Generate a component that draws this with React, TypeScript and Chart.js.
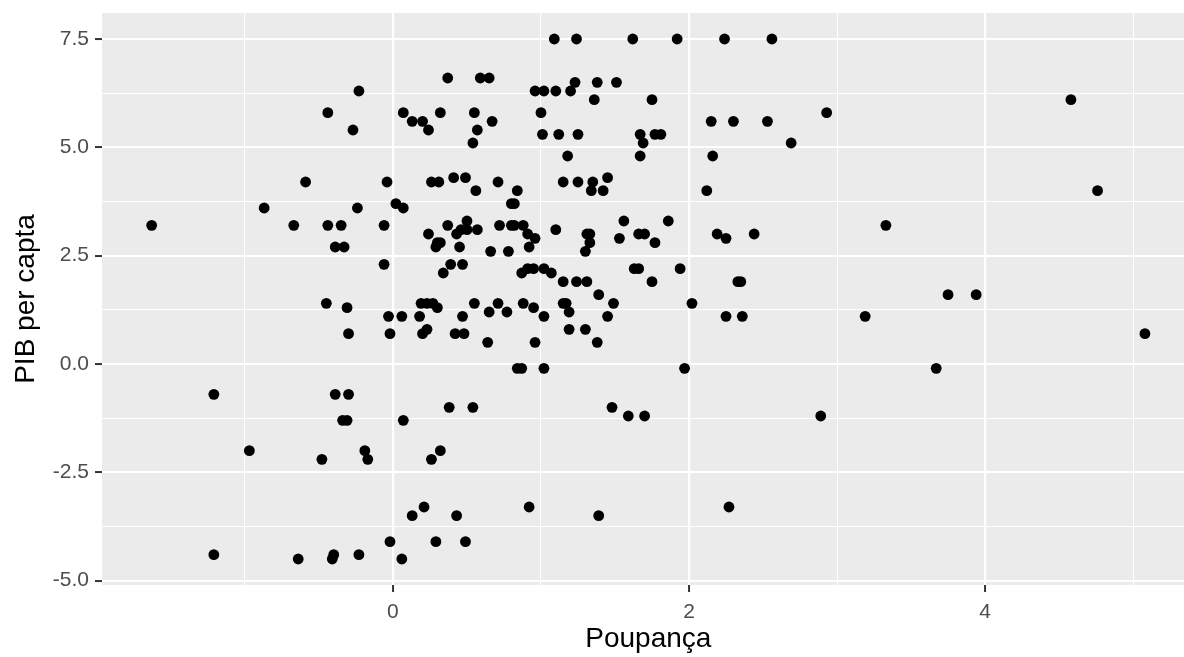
import { useEffect, useRef } from "react";
import { Chart, registerables } from "chart.js";

Chart.register(...registerables);

// Poupança (x) and PIB per capta (y)
const poupanca = [
  -1.63, -0.87, -0.67, -0.59, -0.44, -0.44, -0.39, -0.33, -0.35, -0.27,
  -0.23, -0.24, -0.06, -0.06, -0.04, 0.02, 0.07, 0.07, -0.45, -0.31,
  -0.03, 0.06, -0.3, -0.02, -1.21, -0.39, -0.3, -0.34, -0.31, 0.07,
  -0.97, -0.48, -0.19, -0.17, -0.02, -1.21, -0.64, -0.4, -0.41, -0.23,
  0.06, 1.09, 1.24, 0.37, 0.59, 0.65, 0.96, 1.02, 1.1, 1.2,
  1.23, 0.13, 0.2, 0.24, 0.32, 0.55, 0.67, 0.57, 0.54, 1.0,
  1.01, 1.12, 1.25, 1.18, 0.26, 0.31, 0.41, 0.49, 0.56, 0.71,
  0.84, 0.8, 0.82, 1.15, 1.25, 0.37, 0.5, 0.24, 0.43, 0.46,
  0.5, 0.57, 0.72, 0.8, 0.82, 0.88, 0.91, 0.96, 0.92, 1.1,
  0.3, 0.32, 0.29, 0.45, 0.66, 0.78, 0.39, 0.47, 0.34, 0.87,
  0.91, 0.95, 1.02, 1.07, 1.15, 1.24, 0.19, 0.23, 0.27, 0.3,
  0.18, 0.47, 0.55, 0.65, 0.71, 0.77, 0.88, 0.95, 1.02, 1.15,
  1.17, 1.19, 1.19, 0.2, 0.23, 0.42, 0.48, 0.64, 0.96, 0.84,
  0.87, 1.02, 0.38, 0.54, 0.32, 0.26, 0.21, 0.13, 0.43, 0.92,
  1.39, 0.29, 0.49, 1.48, 1.59, 1.7, 2.27, 1.62, 1.92, 2.24,
  2.56, 1.38, 1.51, 1.36, 1.75, 2.15, 2.3, 2.53, 1.67, 1.77,
  1.81, 1.69, 1.67, 2.16, 1.35, 1.45, 1.34, 1.42, 2.12, 1.56,
  1.86, 1.31, 1.33, 1.33, 1.3, 1.53, 1.66, 1.7, 1.77, 2.19,
  2.25, 2.44, 1.63, 1.66, 1.94, 1.31, 1.75, 2.33, 2.35, 1.39,
  1.49, 2.02, 1.45, 2.25, 2.36, 1.3, 1.38, 1.97, 2.69, 2.93,
  2.89, 3.19, 3.33, 3.67, 3.75, 3.94, 4.58, 4.76, 5.08,
];

const pibPerCapta = [
  3.2, 3.6, 3.2, 4.2, 5.8, 3.2, 2.7, 2.7, 3.2, 5.4,
  6.3, 3.6, 3.2, 2.3, 4.2, 3.7, 3.6, 5.8, 1.4, 1.3,
  1.1, 1.1, 0.7, 0.7, -0.7, -0.7, -0.7, -1.3, -1.3, -1.3,
  -2.0, -2.2, -2.0, -2.2, -4.1, -4.4, -4.5, -4.4, -4.5, -4.4,
  -4.5, 7.5, 7.5, 6.6, 6.6, 6.6, 6.3, 6.3, 6.3, 6.3,
  6.5, 5.6, 5.6, 5.4, 5.8, 5.8, 5.6, 5.4, 5.1, 5.8,
  5.3, 5.3, 5.3, 4.8, 4.2, 4.2, 4.3, 4.3, 4.0, 4.2,
  4.0, 3.7, 3.7, 4.2, 4.2, 3.2, 3.3, 3.0, 3.0, 3.1,
  3.1, 3.1, 3.2, 3.2, 3.2, 3.2, 3.0, 2.9, 2.7, 3.1,
  2.8, 2.8, 2.7, 2.7, 2.6, 2.6, 2.3, 2.3, 2.1, 2.1,
  2.2, 2.2, 2.2, 2.1, 1.9, 1.9, 1.4, 1.4, 1.4, 1.3,
  1.1, 1.1, 1.4, 1.2, 1.4, 1.2, 1.4, 1.3, 1.1, 1.4,
  1.4, 1.2, 0.8, 0.7, 0.8, 0.7, 0.7, 0.5, 0.5, -0.1,
  -0.1, -0.1, -1.0, -1.0, -2.0, -2.2, -3.3, -3.5, -3.5, -3.3,
  -3.5, -4.1, -4.1, -1.0, -1.2, -1.2, -3.3, 7.5, 7.5, 7.5,
  7.5, 6.5, 6.5, 6.1, 6.1, 5.6, 5.6, 5.6, 5.3, 5.3,
  5.3, 5.1, 4.8, 4.8, 4.2, 4.3, 4.0, 4.0, 4.0, 3.3,
  3.3, 3.0, 3.0, 2.8, 2.6, 2.9, 3.0, 3.0, 2.8, 3.0,
  2.9, 3.0, 2.2, 2.2, 2.2, 1.9, 1.9, 1.9, 1.9, 1.6,
  1.4, 1.4, 1.1, 1.1, 1.1, 0.8, 0.5, -0.1, 5.1, 5.8,
  -1.2, 1.1, 3.2, -0.1, 1.6, 1.6, 6.1, 4.0, 0.7,
];

const xTickValues = [-1, 0, 1, 2, 3, 4, 5];
const xMajorTicks = [0, 2, 4];
const yTickValues = [-5, -3.75, -2.5, -1.25, 0, 1.25, 2.5, 3.75, 5, 6.25, 7.5];
const yMajorTicks = [-5, -2.5, 0, 2.5, 5, 7.5];

const xTitle = "Poupança";
const yTitle = "PIB per capta";

const FONT = "'Liberation Sans', Arial, sans-serif";

const panelBackground = {
  id: "panelBackground",
  beforeDraw(chart: any) {
    const { ctx, chartArea } = chart;
    ctx.save();
    ctx.fillStyle = "#EBEBEB";
    ctx.fillRect(chartArea.left, chartArea.top, chartArea.right - chartArea.left, chartArea.bottom - chartArea.top);
    ctx.restore();
  },
};

function expand(values: number[]) {
  const lo = Math.min(...values);
  const hi = Math.max(...values);
  const pad = (hi - lo) * 0.05;
  return [lo - pad, hi + pad];
}

export default function App() {
  const canvasRef = useRef<HTMLCanvasElement | null>(null);

  useEffect(() => {
    if (!canvasRef.current) return;
    const [xMin, xMax] = expand(poupanca);
    const [yMin, yMax] = expand(pibPerCapta);
    const points = poupanca.map((x, i) => ({ x, y: pibPerCapta[i] }));

    const isXMajor = (v: number) => xMajorTicks.includes(v);
    const isYMajor = (v: number) => yMajorTicks.includes(v);

    const chart = new Chart(canvasRef.current, {
      type: "scatter",
      data: {
        datasets: [
          {
            data: points,
            backgroundColor: "#000000",
            borderWidth: 0,
            pointRadius: 5.4,
            pointHoverRadius: 5.4,
          },
        ],
      },
      plugins: [panelBackground],
      options: {
        animation: false,
        responsive: false,
        events: [],
        layout: { padding: { top: 13, right: 2, left: 0, bottom: 0 } },
        plugins: {
          legend: { display: false },
          tooltip: { enabled: false },
          title: { display: false },
        },
        scales: {
          x: {
            type: "linear",
            min: xMin,
            max: xMax,
            afterBuildTicks: (s: any) => {
              s.ticks = xTickValues.map((v) => ({ value: v }));
            },
            afterFit: (s: any) => {
              s.height = 72;
              s.paddingLeft = 0;
              s.paddingRight = 0;
            },
            border: { display: false },
            grid: {
              color: "#FFFFFF",
              lineWidth: (c: any) => (isXMajor(c.tick.value) ? 2.1 : 1.05),
              drawTicks: true,
              tickLength: 7,
              tickColor: (c: any) => (isXMajor(c.tick.value) ? "#333333" : "rgba(0,0,0,0)"),
              tickWidth: 2,
            },
            ticks: {
              autoSkip: false,
              maxRotation: 0,
              padding: 8,
              color: "#4D4D4D",
              font: { family: FONT, size: 21 },
              callback: (v: any) => (isXMajor(Number(v)) ? String(v) : ""),
            },
            title: {
              display: true,
              text: xTitle,
              color: "#000000",
              font: { family: FONT, size: 28 },
              padding: { top: 0, bottom: 1 },
            },
          },
          y: {
            type: "linear",
            min: yMin,
            max: yMax,
            afterBuildTicks: (s: any) => {
              s.ticks = yTickValues.map((v) => ({ value: v }));
            },
            afterFit: (s: any) => {
              s.width = 102;
              s.paddingTop = 0;
              s.paddingBottom = 0;
            },
            border: { display: false },
            grid: {
              color: "#FFFFFF",
              lineWidth: (c: any) => (isYMajor(c.tick.value) ? 2.1 : 1.05),
              drawTicks: true,
              tickLength: 7,
              tickColor: (c: any) => (isYMajor(c.tick.value) ? "#333333" : "rgba(0,0,0,0)"),
              tickWidth: 2,
            },
            ticks: {
              autoSkip: false,
              padding: 6,
              color: "#4D4D4D",
              font: { family: FONT, size: 21 },
              callback: (v: any) => (isYMajor(Number(v)) ? Number(v).toFixed(1) : ""),
            },
            title: {
              display: true,
              text: yTitle,
              color: "#000000",
              font: { family: FONT, size: 28 },
              padding: { top: 9, bottom: 0 },
            },
          },
        },
      },
    });
    return () => chart.destroy();
  }, []);

  return (
    <div
      style={{
        position: "fixed",
        left: 0,
        top: 0,
        width: 1184,
        height: 657,
        overflow: "hidden",
        background: "#FFFFFF",
      }}
    >
      <canvas ref={canvasRef} width={1200} height={657} style={{ display: "block" }} />
    </div>
  );
}
